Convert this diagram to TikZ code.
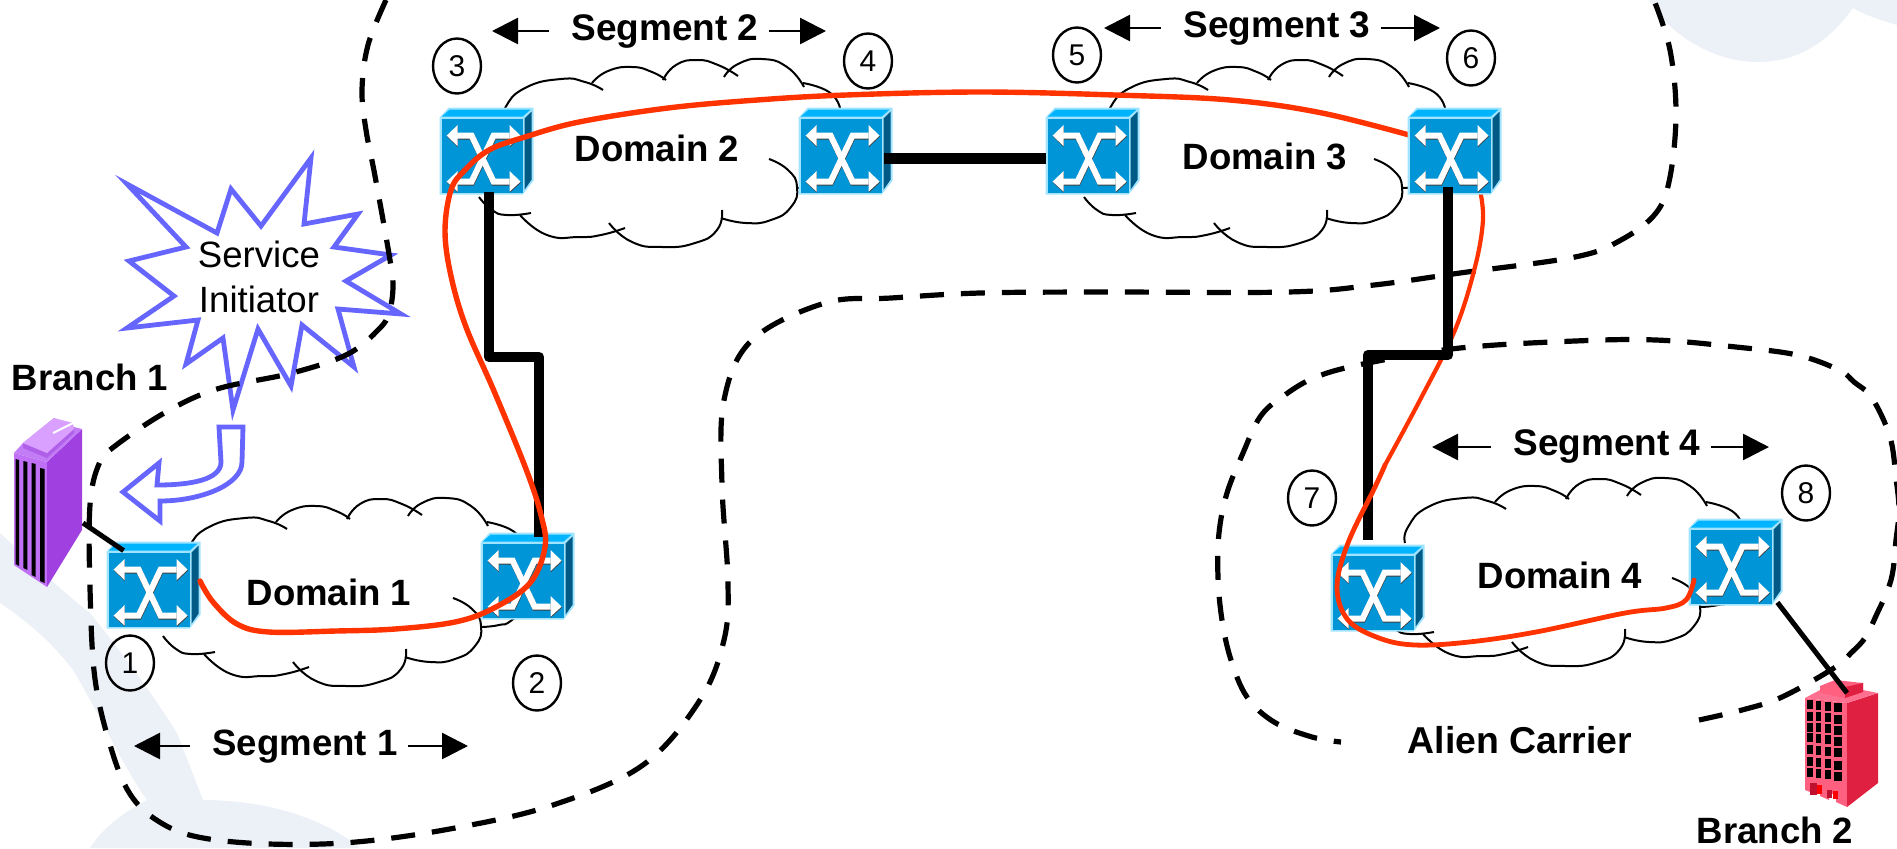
\documentclass[tikz,border=0pt]{standalone}
\usepackage{fontspec}
\setmainfont{Liberation Sans}
\usetikzlibrary{arrows.meta,shapes.geometric,calc}
\definecolor{wm}{HTML}{ECF0F7}
\definecolor{swfront}{HTML}{0095D6}
\definecolor{swtop}{HTML}{00B4FF}
\definecolor{swside}{HTML}{005A85}
\definecolor{swedge}{HTML}{A0E4FF}
\definecolor{routered}{HTML}{FF3300}
\definecolor{starblue}{HTML}{6666FF}
\definecolor{bpA}{HTML}{C070F5}\definecolor{bpB}{HTML}{A040E0}\definecolor{bpC}{HTML}{C27CF5}\definecolor{bpD}{HTML}{D9A0FF}\definecolor{bpE}{HTML}{B060E8}
\definecolor{brA}{HTML}{FF6080}\definecolor{brB}{HTML}{E02040}\definecolor{brC}{HTML}{FF7090}\definecolor{brD}{HTML}{C01030}
\tikzset{
  lab/.style={font=\fontsize{18.3}{20}\selectfont\bfseries,anchor=base,inner sep=0pt,outer xsep=5pt,text=black},
  num/.style={ellipse,draw=black,line width=1.2pt,minimum width=24pt,minimum height=27.5pt,inner sep=0pt,font=\fontsize{15}{15}\selectfont},
  trunk/.style={line width=5.3pt,line join=round,black},
  drop/.style={line width=2.5pt,black},
  route/.style={line width=2.7pt,routered,line cap=round,line join=round},
  routethin/.style={line width=2.1pt,routered},
  segarrow/.style={line width=1.3pt,black,-{Triangle[length=13pt,width=13pt]}},
  boundary/.style={line width=2.6pt,black,dash pattern=on 12pt off 8.5pt},
  cloudline/.style={line width=1pt,black},
  swbox/.style={rectangle,inner sep=0pt,minimum width=47pt,minimum height=43.5pt},
  starline/.style={line width=2.4pt,starblue,fill=white,line join=miter,miter limit=30},
  switch/.pic={
    \fill[swedge] (0,10)--(9,0)--(94,0)--(94,73)--(83,87)--(0,87)--cycle;
    \fill[swtop] (2,9)--(10,2)--(91,2)--(83,9)--cycle;
    \fill[swside] (85,11)--(92,4)--(92,72)--(85,82)--cycle;
    \fill[swfront] (2,11) rectangle (83,85);
    \foreach \d/\c in {1/black!75, 0/white}{
      \begin{scope}[shift={(\d*0.3,\d)}]
      \draw[\c,line width=3pt,line join=miter]
        (16,28)--(32,28)--(54,74)--(70,74);
      \draw[\c,line width=3pt,line join=miter]
        (70,28)--(54,28)--(32,74)--(16,74);
      \fill[\c] (7,28)--(18,17.5)--(18,38.5)--cycle;
      \fill[\c] (81,28)--(70,17.5)--(70,38.5)--cycle;
      \fill[\c] (7,74)--(18,63.5)--(18,84)--cycle;
      \fill[\c] (81,74)--(70,63.5)--(70,84)--cycle;
      \end{scope}
    }
  },
  cloudshape/.pic={
    \draw[cloudline] plot[smooth,tension=.9] coordinates {(502,124)(505,108)(525,88)(561,79)(585,82)(603,90)};
    \draw[cloudline] plot[smooth,tension=.9] coordinates {(592,83)(608,71)(632,67)(652,72)(666,80)};
    \draw[cloudline] plot[smooth,tension=.9] coordinates {(663,80)(676,65)(697,60)(718,65)(738,76)};
    \draw[cloudline] plot[smooth,tension=.9] coordinates {(724,77)(738,64)(762,59)(787,67)(804,87)};
    \draw[cloudline] plot[smooth,tension=.9] coordinates {(803,83)(829,92)(840,108)};
    \draw[cloudline] plot[smooth,tension=.9] coordinates {(769,159)(788,170)(797,187)(791,207)(771,220)(746,223)(721,218)};
    \draw[cloudline] plot[smooth,tension=.9] coordinates {(722,210)(717,230)(695,243)(663,247)(632,242)(609,223)};
    \draw[cloudline] plot[smooth,tension=.9] coordinates {(625,228)(601,235)(579,237)(547,235)(520,215)};
    \draw[cloudline] plot[smooth,tension=.9] coordinates {(531,213)(507,215)(492,210)(479,197)};
    \draw[cloudline] plot[smooth,tension=.9] coordinates {(798,188)(815,186)(828,181)(850,160)};
  }
}
\newcommand{\placeswitch}[3]{\node[swbox] (#1) at (#2+47,#3+43.5) {}; \pic at (#1.north west) {switch};}
\begin{document}
\begin{tikzpicture}[x=0.5pt,y=-0.5pt]
\useasboundingbox (0,0) rectangle (1897,848);
% watermark
\fill[wm] (0,533) .. controls (30,560) and (60,590) .. (90,613) .. controls (120,650) and (150,690) .. (177,733) -- (203,800)
  .. controls (260,800) and (320,815) .. (360,848) -- (90,848) .. controls (105,825) and (125,812) .. (147,800)
  .. controls (125,770) and (100,715) .. (73,670) .. controls (50,640) and (25,620) .. (0,603) -- cycle;
\fill[wm] (1649,0) .. controls (1665,30) and (1710,62) .. (1757,62) .. controls (1800,62) and (1830,40) .. (1853,8)
  .. controls (1865,15) and (1880,20) .. (1897,25) -- (1897,0) -- cycle;
% service initiator star
\draw[starline] (127,184)--(217,233)--(231,189)--(261,226)--(311,158)--(304,224)--(358,214)--(334,247)--(391,255)--(346,281)--(401,314)--(338,309)--(354,367)--(302,325)--(291,386)--(258,329)--(233,410)--(223,338)--(186,364)--(198,320)--(127,328)--(174,296)--(129,261)--(186,247)--cycle;
\node[font=\fontsize{18.3}{22.5}\selectfont,align=center,inner sep=0pt,anchor=base] (initiator) at (259,312) {Service\\Initiator};
% hollow arrow
\draw[starline] (219,427) -- (243,427) -- (242,462) .. controls (242,485) and (200,501) .. (160,501) -- (160,521) -- (123,492) -- (159,463) -- (157,485) .. controls (190,485) and (221,480) .. (221,462) -- cycle;
% clouds
\pic at (-316,439) {cloudshape};
\pic at (0,0) {cloudshape};
\pic at (605,0) {cloudshape};
\pic at (903,419) {cloudshape};
% dashed boundaries
\draw[boundary] plot[smooth,tension=.6] coordinates {(386,0)(368,45)(362,90)(366,130)(375,176)(389,254)(393,286)(389,313)(379,329)(348,354)(292,373)(217,389)(166,412)(115,446)(99,464)(90,505)(90,588)(95,679)(111,748)(130,794)(158,821)(198,837)(269,844)(356,842)(455,828)(553,805)(643,765)(700,700)(724,640)(728,582)(722,485)(724,400)(752,340)(825,303)(891,298)(980,293)(1100,292)(1288,292)(1374,285)(1460,273)(1575,257)(1621,240)(1656,213)(1670,177)(1676,113)(1670,50)(1654,0)};
\draw[boundary] plot[smooth,tension=.6] coordinates {(1699,720)(1742,710)(1782,697)(1834,668)(1851,653)(1865,638)(1875,618)(1891,580)(1896,540)(1899,510)(1896,478)(1890,437)(1872,398)(1854,382)(1839,370)(1797,355)(1736,347)(1656,340)(1575,341)(1460,348)(1368,363)(1316,377)(1282,397)(1260,417)(1243,453)(1227,493)(1219,533)(1218,577)(1222,620)(1231,660)(1247,697)(1274,722)(1312,737)(1341,742)};
% building 1
\fill[bpA] (14,453)--(47,462)--(47,587)--(14,565)--cycle;
\fill[bpB] (47,462)--(82,429)--(82,530)--(47,587)--cycle;
\fill[bpC] (14,453)--(47,462)--(82,429)--(74,427)--(54,418)--(23,443)--cycle;
\fill[bpE] (23,443)--(47,453)--(74,429)--(74,433)--(47,458)--(23,448)--cycle;
\fill[bpD] (23,443)--(54,418)--(73,423)--(74,429)--(47,453)--cycle;
\draw[white,line width=1pt] (53,433)--(73,423);
\fill[black] (15.7,459)--(19,460)--(19,566)--(15.7,564)--cycle;
\fill[black] (23.3,461)--(27.3,462)--(27.3,570)--(23.3,568)--cycle;
\fill[black] (31.7,463)--(35.7,464)--(35.7,577)--(31.7,575)--cycle;
\fill[black] (40,468)--(44.7,469)--(44.7,583)--(40,581)--cycle;
\coordinate (bld1) at (83,523);
% building 2
\fill[brA] (1805,698)--(1847,703)--(1847,807)--(1836,802)--(1836,795)--(1829,793)--(1829,800)--(1820,796)--(1820,789)--(1813,787)--(1813,793)--(1805,790)--cycle;
\fill[brB] (1847,703)--(1878,693)--(1878,783)--(1847,807)--cycle;
\fill[brC] (1805,698)--(1820,690)--(1863,690)--(1878,693)--(1847,703)--cycle;
\fill[brA] (1820,686)--(1835,680)--(1863,683)--(1863,692)--(1845,698)--(1820,693)--cycle;
\fill[brB] (1845,687)--(1863,683)--(1863,692)--(1845,698)--cycle;
\foreach \rt in {700,711.7,722.7,733.3,745,757.3,768.3}{
  \fill[black] (1807.3,\rt)--(1812.7,\rt)--(1812.7,\rt+9)--(1807.3,\rt+9)--cycle;
  \fill[black] (1816,\rt+.7)--(1821.3,\rt+.7)--(1821.3,\rt+9.7)--(1816,\rt+9.7)--cycle;
  \fill[black] (1825,\rt+1.7)--(1830.7,\rt+1.7)--(1830.7,\rt+10.7)--(1825,\rt+10.7)--cycle;
  \fill[black] (1834,\rt+3.3)--(1841.7,\rt+3.3)--(1841.7,\rt+12.3)--(1834,\rt+12.3)--cycle;
}
\fill[brD] (1810,783) rectangle (1817,795);
\fill[red] (1817,785) rectangle (1822,794);
\fill[brD] (1827,790) rectangle (1832,798);
\fill[red] (1833,791) rectangle (1838,799);
\coordinate (bld2) at (1847,693);
% switches
\placeswitch{s1}{107}{542}
\placeswitch{s2}{481}{533}
\placeswitch{s3}{440}{108}
\placeswitch{s4}{799}{108}
\placeswitch{s5}{1046}{108}
\placeswitch{s7}{1331}{545}
\placeswitch{s8}{1689}{519}
% connectors below the route
\coordinate (k1) at (514,357);
\coordinate (k2) at (1408,355);
\draw[drop] (bld1) -- ([shift={(17,9)}]s1.north west);
\draw[drop] ([shift={(-6,-4)}]s8.south east) -- (bld2);
\draw[trunk] ([shift={(2,-3)}]s3.south) |- (k1) -| ([shift={(11,4)}]s2.north);
\draw[trunk,line width=5.5pt] ([shift={(-9,6.5)}]s4.east) -- ([shift={(0,6.5)}]s5.west);
% red route, first part
\draw[route] plot[smooth,tension=.6] coordinates {(200,581)(213,602)(237,624)(269,632)(336,631)(395,629)(455,622)(494,608)(530,583)(545,547)(541,515)(526,469)(494,391)(466,327)(451,276)(445,231)(451,190)(465,170)(489,150)(525,137)(579,122)(668,108)(757,100)(846,95)(980,92)(1115,95)(1230,100)(1322,113)(1420,138)};
\draw[routethin] plot[smooth,tension=.6] coordinates {(1480,190)(1483,220)(1475,267)(1455,330)(1420,400)(1385,465)};
\placeswitch{s6}{1408}{108}
\draw[trunk] ([shift={(-7,-8)}]s6.south) |- (k2) -| ([shift={(-10,-5)}]s7.north);
\draw[route,line width=2.4pt] plot[smooth,tension=.6] coordinates {(1385,465)(1375,487)(1348,543)(1337,587)(1348,620)(1379,638)(1415,645)(1469,642)(1536,632)(1625,613)(1666,608)(1686,600)(1694,580)};
% numbers
\node[num] (n1) at (130,663) {1};
\node[num] (n2) at (537,683) {2};
\node[num] (n3) at (457,66) {3};
\node[num] (n4) at (868,61) {4};
\node[num] (n5) at (1077,55) {5};
\node[num] (n6) at (1471,58) {6};
\node[num] (n7) at (1312,498) {7};
\node[num] (n8) at (1806,493) {8};
% labels
\node[lab] (d1) at (329,605) {Domain 1};
\node[lab] (d2) at (657,161) {Domain 2};
\node[lab] (d3) at (1265,169) {Domain 3};
\node[lab] (d4) at (1560,588) {Domain 4};
\node[lab] (b1) at (90,390) {Branch 1};
\node[lab] (b2) at (1775,843) {Branch 2};
\node[lab,font=\fontsize{18.7}{20}\selectfont\bfseries] (alien) at (1520,753) {Alien Carrier};
\node[lab] (seg1) at (305,755) {Segment 1};
\node[lab,font=\fontsize{18.5}{20}\selectfont\bfseries] (seg2) at (665,40) {Segment 2};
\node[lab,font=\fontsize{18.5}{20}\selectfont\bfseries] (seg3) at (1277,37) {Segment 3};
\node[lab,font=\fontsize{18.5}{20}\selectfont\bfseries] (seg4) at (1607,455) {Segment 4};
% segment arrows
\coordinate (a1l) at (134,746); \coordinate (a1r) at (468,746);
\coordinate (a2l) at (492,31); \coordinate (a2r) at (826,31);
\coordinate (a3l) at (1104,28); \coordinate (a3r) at (1440,28);
\coordinate (a4l) at (1432,447); \coordinate (a4r) at (1769,447);
\foreach \s/\t in {seg1/a1,seg2/a2,seg3/a3,seg4/a4}{
  \draw[segarrow] ([xshift=-6pt]\s.west |- \t l) -- (\t l);
  \draw[segarrow] (\s.east |- \t r) -- (\t r);
}
\end{tikzpicture}
\end{document}
